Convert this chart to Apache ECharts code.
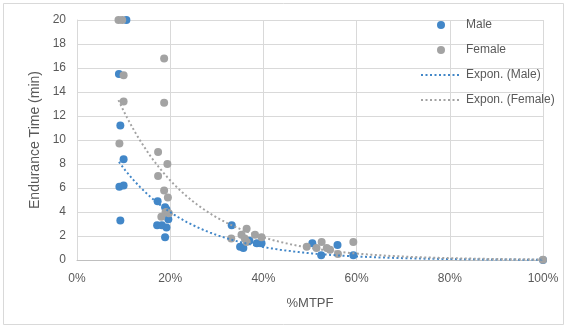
<!DOCTYPE html>
<html>
<head>
<meta charset="utf-8">
<script src="https://cdn.jsdelivr.net/npm/echarts@6/dist/echarts.min.js"></script>
<style>
html,body{margin:0;padding:0;background:#fff;}
#chart{width:567px;height:329px;}
</style>
</head>
<body>
<div id="chart"></div>
<script>
// %MTPF (percent) and endurance time (min)
var maleX = [10.6, 9.0, 9.3, 10.0, 9.1, 10.0, 9.3, 17.3, 18.9, 19.2, 19.6, 17.2, 18.2, 19.2, 18.9, 33.2, 35.0, 35.7, 38.6, 39.6, 37.0, 50.5, 52.4, 55.9, 59.3, 100];
var maleY = [20, 15.5, 11.2, 8.4, 6.1, 6.2, 3.3, 4.9, 4.4, 4.2, 3.4, 2.9, 2.9, 2.7, 1.9, 2.9, 1.1, 1.0, 1.4, 1.4, 1.6, 1.4, 0.4, 1.25, 0.4, 0.008];
var femaleX = [8.9, 9.7, 10.0, 10.0, 9.1, 18.7, 18.7, 17.4, 19.4, 17.4, 18.7, 19.5, 19.0, 19.7, 18.1, 33.1, 36.4, 35.3, 38.2, 39.6, 36.4, 36.0, 49.3, 52.5, 51.4, 53.6, 54.3, 56.0, 59.3, 100];
var femaleY = [20, 20, 15.4, 13.2, 9.7, 16.8, 13.1, 9.0, 8.0, 7.0, 5.8, 5.2, 4.0, 3.9, 3.6, 1.8, 2.6, 2.1, 2.1, 1.9, 1.5, 1.8, 1.1, 1.5, 1.0, 1.0, 0.85, 0.5, 1.5, 0.03];
var xTicks = [0, 20, 40, 60, 80, 100];
var yTicks = [0, 2, 4, 6, 8, 10, 12, 14, 16, 18, 20];

function pairs(xs, ys) { return xs.map(function (x, i) { return [x, ys[i]]; }); }
// Exponential trendline (least squares on ln y), as a spreadsheet computes it
function expTrend(xs, ys) {
  var n = xs.length, sx = 0, sy = 0, sxx = 0, sxy = 0;
  for (var i = 0; i < n; i++) {
    var ly = Math.log(ys[i]);
    sx += xs[i]; sy += ly; sxx += xs[i] * xs[i]; sxy += xs[i] * ly;
  }
  var b = (n * sxy - sx * sy) / (n * sxx - sx * sx);
  var a = Math.exp((sy - b * sx) / n);
  var x0 = Math.min.apply(null, xs), x1 = Math.max.apply(null, xs);
  var pts = [];
  for (var k = 0; k <= 200; k++) {
    var x = x0 + (x1 - x0) * k / 200;
    pts.push([x, a * Math.exp(b * x)]);
  }
  return pts;
}

var blue = '#4287c8', gray = '#a3a3a3';
var font = 'Liberation Sans';
var noSym = { color: 'rgba(0,0,0,0)', borderWidth: 0 };
var chart = echarts.init(document.getElementById('chart'));
chart.setOption({
  animation: false,
  backgroundColor: '#fff',
  graphic: [{ type: 'rect', shape: { x: 3.5, y: 3.5, width: 560, height: 321 }, style: { fill: 'none', stroke: '#d9d9d9', lineWidth: 1 }, silent: true }],
  grid: { left: 77, right: 24, top: 20, bottom: 69 },
  legend: {
    orient: 'vertical', left: 420, top: 19, padding: 0, itemWidth: 40, itemHeight: 8, itemGap: 13,
    textStyle: { fontFamily: font, fontSize: 12, color: '#595959' },
    data: [
      { name: 'Male' },
      { name: 'Female' },
      { name: 'Expon. (Male)', itemStyle: noSym },
      { name: 'Expon. (Female)', itemStyle: noSym }
    ]
  },
  xAxis: {
    type: 'value', min: 0, max: 100, interval: 20,
    name: '%MTPF', nameLocation: 'middle', nameGap: 37,
    nameTextStyle: { fontFamily: font, fontSize: 13, color: '#595959' },
    axisLine: { show: true, lineStyle: { color: '#bfbfbf', width: 1 } },
    axisTick: { show: false },
    axisLabel: { formatter: '{value}%', fontFamily: font, fontSize: 12, color: '#595959', margin: 13 },
    splitLine: { show: true, lineStyle: { color: '#d9d9d9', width: 1 } }
  },
  yAxis: {
    type: 'value', min: 0, max: 20, interval: 2,
    name: 'Endurance Time (min)', nameLocation: 'middle', nameGap: 30, nameRotate: 90,
    nameTextStyle: { fontFamily: font, fontSize: 14, color: '#595959' },
    axisLine: { show: true, lineStyle: { color: '#d9d9d9', width: 1 } },
    axisTick: { show: false },
    axisLabel: { fontFamily: font, fontSize: 12, color: '#595959', margin: 11 },
    splitLine: { show: true, lineStyle: { color: '#d9d9d9', width: 1 } }
  },
  series: [
    { name: 'Male', type: 'scatter', symbolSize: 8, itemStyle: { color: blue, opacity: 1 }, data: pairs(maleX, maleY) },
    { name: 'Female', type: 'scatter', symbolSize: 8, itemStyle: { color: gray, opacity: 1 }, data: pairs(femaleX, femaleY) },
    { name: 'Expon. (Male)', type: 'line', symbol: 'none', smooth: false, lineStyle: { color: blue, width: 2, type: [2, 2.5] }, itemStyle: { color: blue }, data: expTrend(maleX, maleY), z: 3 },
    { name: 'Expon. (Female)', type: 'line', symbol: 'none', smooth: false, lineStyle: { color: gray, width: 2, type: [2, 2.5] }, itemStyle: { color: gray }, data: expTrend(femaleX, femaleY), z: 3 }
  ]
});
</script>
</body>
</html>
